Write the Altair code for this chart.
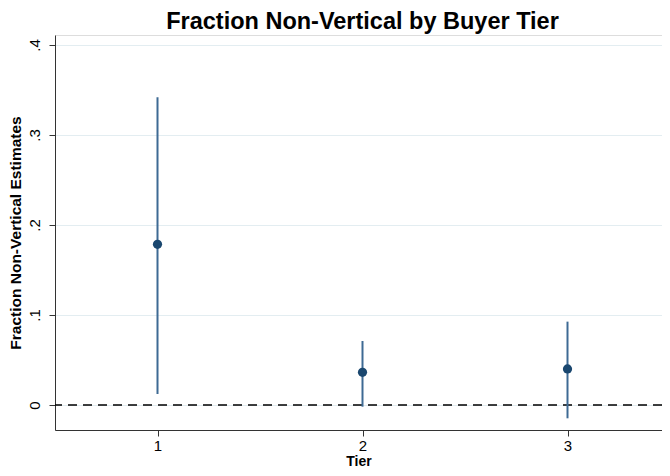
import altair as alt
import pandas as pd

tiers = [1, 2, 3]
estimates = [0.1785, 0.0363, 0.0400]
ci_low = [0.0122, -0.0019, -0.0148]
ci_high = [0.3419, 0.0711, 0.0926]
y_ticks = [0, 0.1, 0.2, 0.3, 0.4]

df = pd.DataFrame({"tier": tiers, "est": estimates, "lo": ci_low, "hi": ci_high})

FONT = "Liberation Sans"
W = 607
xscale = alt.Scale(domain=[0.5, 0.5 + W / 205.0], nice=False, zero=False)
yscale = alt.Scale(domain=[-0.0278, 0.4111], nice=False, zero=False)

xaxis = alt.Axis(values=tiers, format="d", title="Tier", grid=False, tickSize=6,
                 domainColor="#333333", tickColor="#333333", labelFontSize=15,
                 labelColor="black", titleFontSize=14, titleFontWeight="bold",
                 titleColor="black", labelPadding=2, titlePadding=1, labelFont=FONT, titleFont=FONT)
yaxis = alt.Axis(values=y_ticks, title="Fraction Non-Vertical Estimates", grid=True,
                 gridColor="#e3edf1", gridWidth=1, tickSize=6,
                 domainColor="#333333", tickColor="#333333",
                 labelExpr="datum.value == 0 ? '0' : replace(format(datum.value, '.1f'), '0.', '.')",
                 labelAngle=270, labelAlign="center", labelBaseline="bottom", labelPadding=7,
                 labelFontSize=15, labelColor="black", titleFontSize=15.5, titleFontWeight="bold",
                 titleColor="black", titlePadding=4, labelFont=FONT, titleFont=FONT)

base = alt.Chart(df)

ci = base.mark_rule(color="#3e6a94", strokeWidth=2).encode(
    x=alt.X("tier:Q", scale=xscale, axis=xaxis),
    y=alt.Y("lo:Q", scale=yscale, axis=yaxis),
    y2="hi:Q",
)
pts = base.mark_point(filled=True, color="#1a476f", size=85, opacity=1).encode(
    x=alt.X("tier:Q", scale=xscale),
    y=alt.Y("est:Q", scale=yscale),
)
zero = alt.Chart(pd.DataFrame({"y": [0]})).mark_rule(
    color="black", strokeDash=[9, 6], strokeWidth=1.3).encode(
    y=alt.Y("y:Q", scale=yscale))

chart = alt.layer(zero, ci, pts).properties(
    width=W, height=395,
    title=alt.TitleParams("Fraction Non-Vertical by Buyer Tier", fontSize=23.5, font=FONT,
                          fontWeight="bold", color="black", anchor="middle", offset=2, dx=4),
    autosize=alt.AutoSizeParams(type="none"),
    padding={"left": 47, "top": 27, "right": 0, "bottom": 38},
).configure_view(stroke=None).configure(background="white")

chart.save("out.html", embed_options={"renderer": "svg", "actions": False})
